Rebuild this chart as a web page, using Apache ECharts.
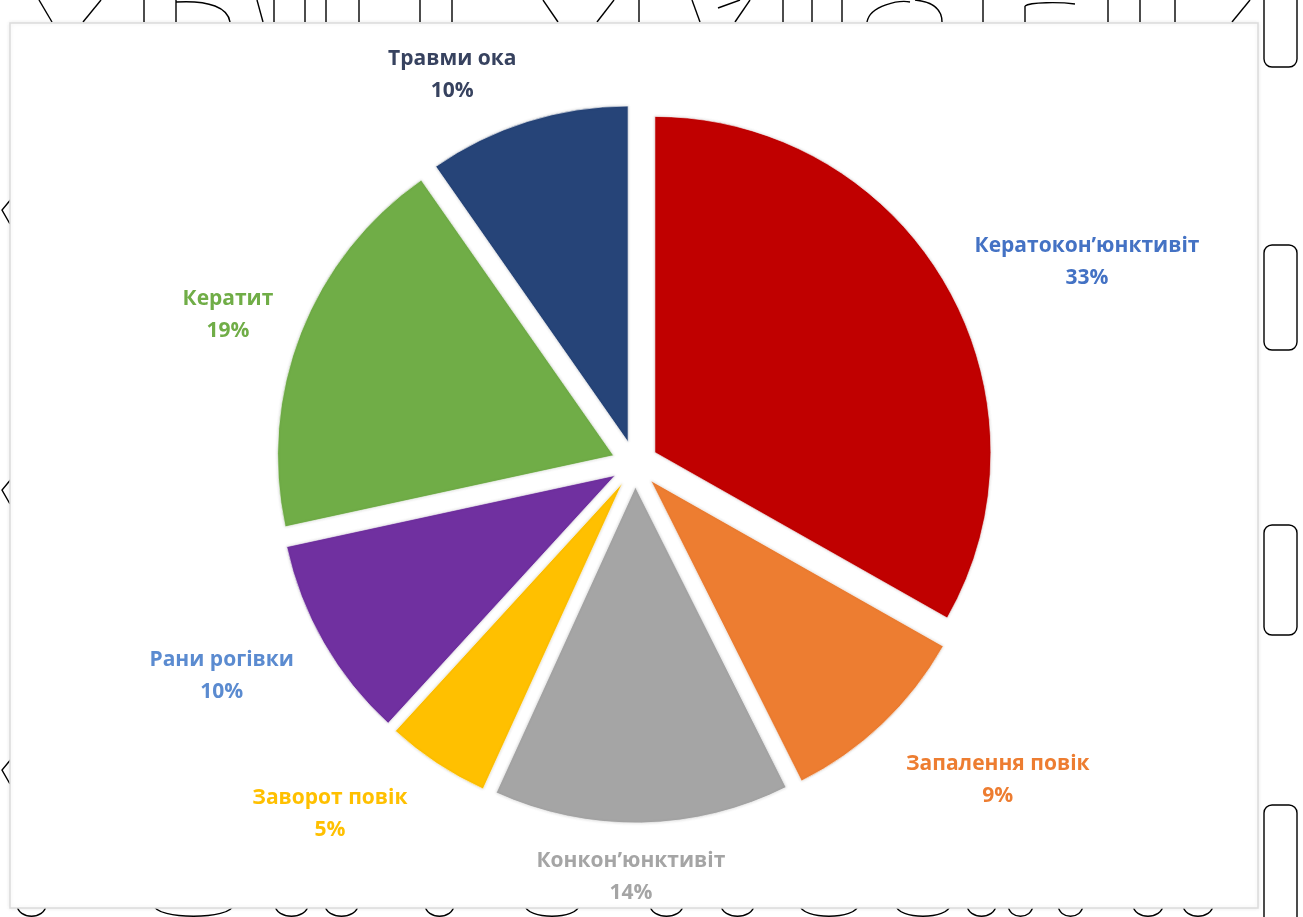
<!DOCTYPE html>
<html>
<head>
<meta charset="utf-8">
<script src="https://cdn.jsdelivr.net/npm/echarts@6/dist/echarts.min.js"></script>
<style>
html,body{margin:0;padding:0;background:#fff;}
#chart{width:1303px;height:917px;}
</style>
</head>
<body>
<div id="chart"></div>
<script>
// ---- data ----
const categories = ['Кератокон’юнктивіт', 'Запалення повік', 'Конкон’юнктивіт', 'Заворот повік', 'Рани рогівки', 'Кератит', 'Травми ока'];
const values = [33.2, 9.4, 14.2, 5.0, 9.8, 18.7, 9.7];
const sliceColors = ['#C00000', '#ED7D31', '#A5A5A5', '#FFC000', '#7030A0', '#70AD47', '#264478'];
const labelColors = ['#4472C4', '#ED7D31', '#A5A5A5', '#FFC000', '#5B8BD0', '#70AD47', '#37425F'];

// ---- style / layout ----
const labelNudge = [[85, 9], [69, 12], [-17, -6], [-69, 1], [-45, 3], [-12, 4], [-52, 11]];

const chart = echarts.init(document.getElementById('chart'), null, {renderer: 'canvas'});

const strokeStyle = {stroke: '#000', fill: null, lineWidth: 1.4};
function ln(x1, y1, x2, y2) {
  return {type: 'line', shape: {x1, y1, x2, y2}, style: strokeStyle, silent: true};
}
function bez(x1, y1, cpx1, cpy1, cpx2, cpy2, x2, y2) {
  return {type: 'bezierCurve', shape: {x1, y1, cpx1, cpy1, cpx2, cpy2, x2, y2}, style: strokeStyle, silent: true};
}
function pl(points) {
  return {type: 'polyline', shape: {points}, style: strokeStyle, silent: true};
}
function cup(a, b) {
  return bez(a, 905, a + 1, 920, b - 1, 920, b, 905);
}
function bracket(y, h) {
  return {type: 'rect', shape: {x: 1264, y: y, width: 33, height: h, r: 8}, style: strokeStyle, silent: true};
}
const deco = [
  ln(39, 0, 52, 22), ln(101, 0, 83, 22), ln(144, 0, 144, 22),
  ln(176, 0, 176, 22), bez(176, 2, 210, 0, 228, 8, 230, 22),
  ln(257, 0, 263, 22), ln(274, 0, 274, 22), ln(305, 0, 305, 22), ln(326, 0, 326, 22),
  ln(359, 0, 359, 22), ln(420, 0, 420, 22), ln(452, 0, 452, 22),
  ln(543, 0, 558, 22), ln(614, 0, 597, 22), ln(639, 0, 639, 22),
  ln(692, 0, 700, 22), ln(750, 0, 735, 22), ln(718, 8, 740, 0),
  ln(783, 0, 783, 22), ln(812, 0, 812, 22), ln(842, 0, 842, 22),
  bez(867, 22, 870, 5, 900, 0, 910, 2), bez(915, 0, 935, 2, 942, 10, 942, 22),
  ln(983, 0, 983, 22), ln(1025, 6, 1025, 22), bez(1025, 6, 1030, 2, 1060, 2, 1075, 4), ln(1108, 0, 1108, 22),
  ln(1140, 0, 1140, 22), ln(1175, 0, 1175, 22), ln(1250, 0, 1232, 22),
  bracket(-20, 87), bracket(245, 105), bracket(525, 110), bracket(805, 130),
  pl([[12, 198], [2, 210], [10, 224]]), pl([[12, 478], [2, 490], [10, 504]]), pl([[12, 758], [2, 770], [10, 784]]),
  cup(17, 46), cup(154, 233), cup(275, 308), cup(325, 358), cup(425, 454), cup(525, 579),
  cup(650, 683), cup(721, 754), cup(800, 858), cup(896, 950), cup(967, 996), cup(1008, 1033),
  cup(1058, 1083), cup(1133, 1163), cup(1183, 1213),
  {type: 'rect', shape: {x: 10, y: 23, width: 1248, height: 885},
   style: {fill: '#ffffff', stroke: '#dcdcdc', lineWidth: 1.5, shadowBlur: 4, shadowColor: 'rgba(0,0,0,0.08)'}, silent: true}
];

const option = {
  backgroundColor: '#ffffff',
  animation: false,
  graphic: {elements: deco},
  series: [{
    type: 'pie',
    center: [635, 464],
    radius: 336,
    startAngle: 90,
    clockwise: true,
    percentPrecision: 0,
    selectedMode: 'multiple',
    selectedOffset: 23,
    emphasis: {disabled: true},
    itemStyle: {borderColor: 'rgba(255,255,255,0.6)', borderWidth: 1, shadowBlur: 3, shadowColor: 'rgba(0,0,0,0.15)'},
    label: {
      show: true,
      position: 'outside',
      fontFamily: '"Open Sans", "Noto Sans", sans-serif',
      fontWeight: 'bold',
      fontSize: 21,
      lineHeight: 32,
      formatter: '{b}\n{d}%'
    },
    labelLine: {show: false, length: 60, length2: 0},
    labelLayout: function (params) {
      const n = labelNudge[params.dataIndex];
      return {dx: n[0], dy: n[1], align: 'center', verticalAlign: 'middle'};
    },
    data: categories.map((c, i) => ({
      name: c,
      value: values[i],
      selected: true,
      itemStyle: {color: sliceColors[i]},
      label: {color: labelColors[i]}
    }))
  }]
};
chart.setOption(option);
</script>
</body>
</html>
